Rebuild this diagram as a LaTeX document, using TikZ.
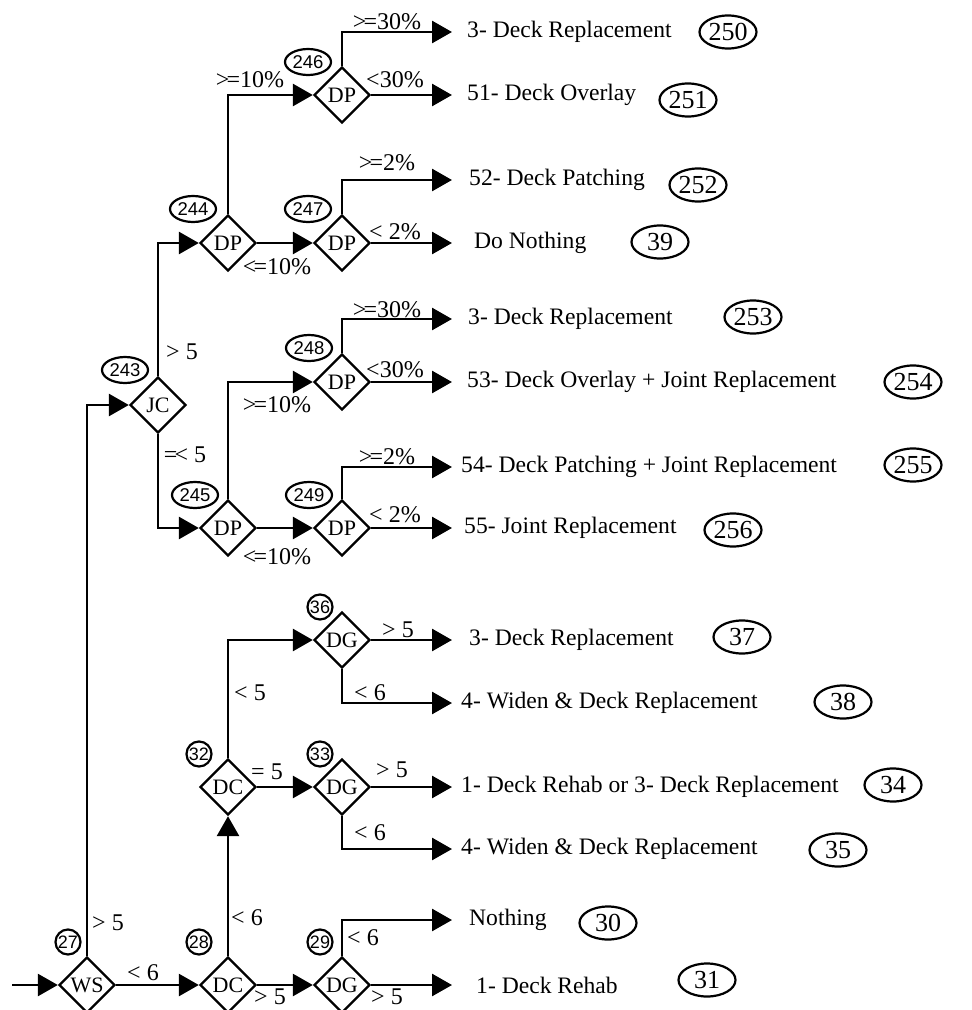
\documentclass[tikz,border=0pt]{standalone}
\usepackage{fontspec}
\setmainfont{Liberation Serif}
\newfontfamily\idfont{Liberation Sans}
\usetikzlibrary{shapes.geometric,arrows.meta}
\newcommand{\myge}{>\kern-3pt=}
\newcommand{\myle}{<\kern-3pt=}
\newcommand{\myel}{=\kern-3pt<}
\begin{document}
\begin{tikzpicture}[x=1pt,y=-1pt,
  dia/.style={diamond, draw, line width=2.4pt, minimum width=56pt, minimum height=56pt, inner sep=0pt, font=\fontsize{22}{24}\selectfont},
  con/.style={line width=2.8pt, -{Triangle[length=20pt,width=22pt]}},
  lbl/.style={font=\fontsize{24}{26}\selectfont, inner sep=0pt},
  res/.style={anchor=west, inner ysep=0pt, font=\fontsize{23.6}{27}\selectfont},
  oval/.style={ellipse, draw, line width=2.2pt, minimum width=57pt, minimum height=33pt, inner sep=0pt, font=\fontsize{26}{28}\selectfont},
  idc/.style={circle, draw, line width=2.2pt, minimum size=25pt, inner sep=0pt, font=\idfont\fontsize{18}{19}\selectfont},
  ide/.style={ellipse, draw, line width=2.2pt, minimum width=46pt, minimum height=26pt, inner sep=0pt, font=\idfont\fontsize{18.5}{19}\selectfont}]
\useasboundingbox[fill=white] (0,0) rectangle (972,1010);

% decision diamonds
\node[dia] (ws)    at (87,985)  {WS};
\node[dia] (dc28)  at (228,985) {DC};
\node[dia] (dg29)  at (342,985) {DG};
\node[dia] (dc32)  at (228,787) {DC};
\node[dia] (dg33)  at (342,787) {DG};
\node[dia] (dg36)  at (342,640) {DG};
\node[dia] (jc)    at (158,405) {JC};
\node[dia] (dp244) at (228,243) {DP};
\node[dia] (dp246) at (342,95)  {DP};
\node[dia] (dp247) at (342,243) {DP};
\node[dia] (dp245) at (228,528) {DP};
\node[dia] (dp248) at (342,382) {DP};
\node[dia] (dp249) at (342,528) {DP};

% id labels
\node[idc] (i27) at (68,942)  {27};
\node[idc] (i28) at (199,942) {28};
\node[idc] (i29) at (320,942) {29};
\node[idc] (i32) at (199,754) {32};
\node[idc] (i33) at (320,754) {33};
\node[idc] (i36) at (320,607) {36};
\node[ide] (i243) at (125,370) {243};
\node[ide] (i244) at (193,209) {244};
\node[ide] (i246) at (308,62)  {246};
\node[ide] (i247) at (308,209) {247};
\node[ide] (i245) at (195,495) {245};
\node[ide] (i249) at (309,495) {249};
\node[ide] (i248) at (309,348) {248};

% results
\node[res, inner xsep=15pt] (r1)  at (452,32)  {3- Deck Replacement};
\node[res, inner xsep=15pt] (r2)  at (452,95)  {51- Deck Overlay};
\node[res, inner xsep=17pt] (r3)  at (452,180) {52- Deck Patching};
\node[res, inner xsep=22pt] (r4)  at (452,243) {Do Nothing};
\node[res, inner xsep=16pt] (r5)  at (452,319) {3- Deck Replacement};
\node[res, inner xsep=15pt] (r6)  at (452,382) {53- Deck Overlay + Joint Replacement};
\node[res, inner xsep=9pt]  (r7)  at (452,467) {54- Deck Patching + Joint Replacement};
\node[res, inner xsep=12pt] (r8)  at (452,528) {55- Joint Replacement};
\node[res, inner xsep=17pt] (r9)  at (452,640) {3- Deck Replacement};
\node[res, inner xsep=9pt]  (r10) at (452,703) {4- Widen \& Deck Replacement};
\node[res, inner xsep=9pt]  (r11) at (452,787) {1- Deck Rehab or 3- Deck Replacement};
\node[res, inner xsep=9pt]  (r12) at (452,849) {4- Widen \& Deck Replacement};
\node[res, inner xsep=17pt] (r13) at (452,920) {Nothing};
\node[res, inner xsep=24pt] (r14) at (452,985) {1- Deck Rehab};

\node[oval] (e1)  at (728,32)  {250};
\node[oval] (e2)  at (688,100) {251};
\node[oval] (e3)  at (698,185) {252};
\node[oval] (e4)  at (660,242) {39};
\node[oval] (e5)  at (753,317) {253};
\node[oval] (e6)  at (913,382) {254};
\node[oval] (e7)  at (913,465) {255};
\node[oval] (e8)  at (733,530) {256};
\node[oval] (e9)  at (742,637) {37};
\node[oval] (e10) at (843,702) {38};
\node[oval] (e11) at (893,785) {34};
\node[oval] (e12) at (838,850) {35};
\node[oval] (e13) at (608,923) {30};
\node[oval] (e14) at (707,980) {31};

% connectors
\coordinate (start) at (12,985);
\draw[con] (start) -- (ws.west);
\draw[con] (ws.east) -- (dc28.west);
\draw[con] (ws.north) |- (jc.west);
\draw[con] (dc28.east) -- (dg29.west);
\draw[con] (dc28.north) -- (dc32.south);
\draw[con] (dg29.north) |- (r13.west);
\draw[con] (dg29.east) -- (r14.west);
\draw[con] (dc32.north) |- (dg36.west);
\draw[con] (dc32.east) -- (dg33.west);
\draw[con] (dg33.east) -- (r11.west);
\draw[con] (dg33.south) |- (r12.west);
\draw[con] (dg36.east) -- (r9.west);
\draw[con] (dg36.south) |- (r10.west);
\draw[con] (jc.north) |- (dp244.west);
\draw[con] (jc.south) |- (dp245.west);
\draw[con] (dp244.north) |- (dp246.west);
\draw[con] (dp244.east) -- (dp247.west);
\draw[con] (dp246.north) |- (r1.west);
\draw[con] (dp246.east) -- (r2.west);
\draw[con] (dp247.north) |- (r3.west);
\draw[con] (dp247.east) -- (r4.west);
\draw[con] (dp245.north) |- (dp248.west);
\draw[con] (dp245.east) -- (dp249.west);
\draw[con] (dp248.north) |- (r5.west);
\draw[con] (dp248.east) -- (r6.west);
\draw[con] (dp249.north) |- (r7.west);
\draw[con] (dp249.east) -- (r8.west);

% condition labels
\node[lbl] (l1)  at (143,973)  {< 6};
\node[lbl] (l2)  at (108,923)  {> 5};
\node[lbl] (l3)  at (270,997)  {> 5};
\node[lbl] (l4)  at (247,918)  {< 6};
\node[lbl] (l5)  at (363,938)  {< 6};
\node[lbl] (l6)  at (387,997)  {> 5};
\node[lbl] (l7)  at (250,693)  {< 5};
\node[lbl] (l8)  at (267,772)  {= 5};
\node[lbl] (l9)  at (392,770)  {> 5};
\node[lbl] (l10) at (370,833)  {< 6};
\node[lbl] (l11) at (398,630)  {> 5};
\node[lbl] (l12) at (370,693)  {< 6};
\node[lbl] (l13) at (182,352)  {> 5};
\node[lbl] (l14) at (185,455)  {\myel{} 5};
\node[lbl] (l15) at (250,80)   {\myge10\%};
\node[lbl] (l16) at (277,267)  {\myle10\%};
\node[lbl] (l17) at (387,22)   {\myge30\%};
\node[lbl] (l18) at (395,80)   {<30\%};
\node[lbl] (l19) at (387,163)  {\myge2\%};
\node[lbl] (l20) at (395,232)  {< 2\%};
\node[lbl] (l21) at (277,405)  {\myge10\%};
\node[lbl] (l22) at (277,557)  {\myle10\%};
\node[lbl] (l23) at (387,310)  {\myge30\%};
\node[lbl] (l24) at (395,370)  {<30\%};
\node[lbl] (l25) at (387,457)  {\myge2\%};
\node[lbl] (l26) at (395,515)  {< 2\%};
\end{tikzpicture}
\end{document}
